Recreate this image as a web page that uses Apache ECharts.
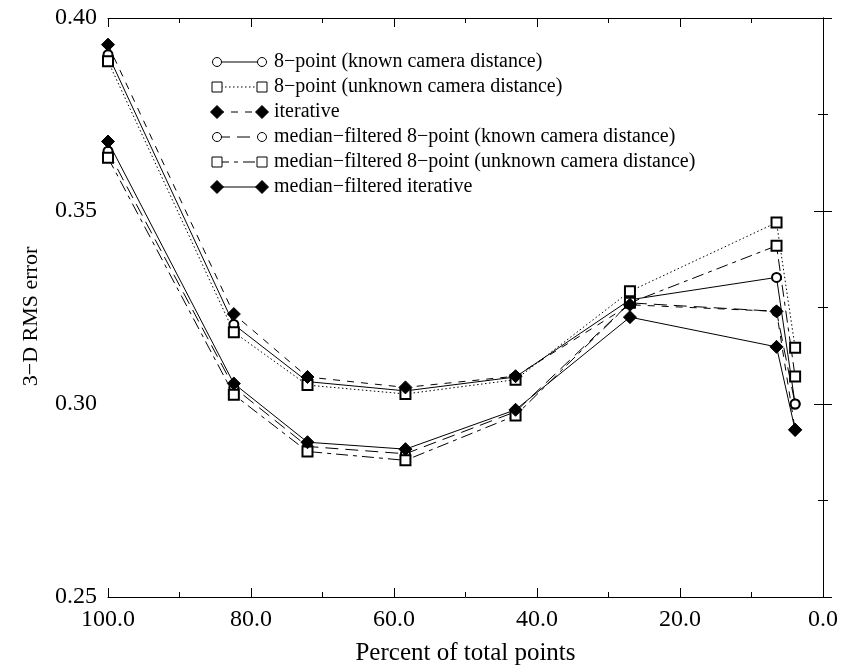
<!DOCTYPE html>
<html>
<head>
<meta charset="utf-8">
<script src="https://cdn.jsdelivr.net/npm/echarts@6/dist/echarts.min.js"></script>
<style>
html,body{margin:0;padding:0;background:#fff;}
#chart{width:844px;height:671px;}
</style>
</head>
<body>
<div id="chart"></div>
<script>
// ---- data ----
var percentPoints = [100, 82.4, 72.1, 58.4, 43.0, 27.0, 6.5, 3.9];
var eightKnown      = [0.3905, 0.3206, 0.3058, 0.3034, 0.3070, 0.3270, 0.3328, 0.3000];
var eightUnknown    = [0.3888, 0.3186, 0.3049, 0.3026, 0.3063, 0.3292, 0.3470, 0.3146];
var iterative       = [0.3931, 0.3233, 0.3070, 0.3043, 0.3072, 0.3257, 0.3240, 0.2933];
var medEightKnown   = [0.3655, 0.3043, 0.2890, 0.2871, 0.2980, 0.3262, 0.3240, 0.3000];
var medEightUnknown = [0.3638, 0.3024, 0.2877, 0.2854, 0.2970, 0.3262, 0.3410, 0.3071];
var medIterative    = [0.3680, 0.3053, 0.2901, 0.2883, 0.2985, 0.3225, 0.3148, 0.2933];
var seriesNames = [
  "8\u2212point (known camera distance)",
  "8\u2212point (unknown camera distance)",
  "iterative",
  "median\u2212filtered 8\u2212point (known camera distance)",
  "median\u2212filtered 8\u2212point (unknown camera distance)",
  "median\u2212filtered iterative"
];
var xTicks = [0, 20, 40, 60, 80, 100];
var yTicks = [0.25, 0.30, 0.35, 0.40];

// ---- styles ----
var seriesData = [eightKnown, eightUnknown, iterative, medEightKnown, medEightUnknown, medIterative];
var styles = [
  {sym:'emptyCircle', size:9, dash:'solid', kind:'circle', z:3},
  {sym:'emptyRect', size:10, dash:[1.5,2.5], kind:'rect', z:3},
  {sym:'diamond', size:13, dash:[7,7], kind:'diamond', z:5},
  {sym:'emptyCircle', size:9, dash:[13,7], kind:'circle', z:3},
  {sym:'emptyRect', size:10, dash:[12,5,4,5], kind:'rect', z:3},
  {sym:'diamond', size:13, dash:'solid', kind:'diamond', z:5}
];
var FONT = '"Liberation Serif","Times New Roman",serif';

var series = seriesData.map(function(vals, i){
  return {
    name: seriesNames[i],
    type: 'line',
    data: percentPoints.map(function(x, j){ return [x, vals[j]]; }),
    symbol: styles[i].sym,
    symbolSize: styles[i].size,
    showAllSymbol: true,
    lineStyle: {color:'#000', width:1, type: styles[i].dash},
    itemStyle: {color:'#000', borderColor:'#000', borderWidth:1},
    emphasis: {disabled:true},
    animation: false,
    z: styles[i].z
  };
});

// legend drawn as graphics
var graphics = [];
var lx1 = 217, lx2 = 262, ly0 = 62, ldy = 25;
styles.forEach(function(st, i){
  var y = ly0 + i*ldy;
  graphics.push({type:'line', shape:{x1:lx1, y1:y, x2:lx2, y2:y},
    style:{stroke:'#000', lineWidth:1, lineDash: st.dash === 'solid' ? null : st.dash}, z:10});
  [lx1, lx2].forEach(function(x){
    if (st.kind === 'circle') {
      graphics.push({type:'circle', shape:{cx:x, cy:y, r:4.5}, style:{fill:'#fff', stroke:'#000', lineWidth:1}, z:11});
    } else if (st.kind === 'rect') {
      graphics.push({type:'rect', shape:{x:x-5, y:y-5, width:10, height:10}, style:{fill:'#fff', stroke:'#000', lineWidth:1}, z:11});
    } else {
      graphics.push({type:'polygon', shape:{points:[[x, y-6.5],[x+6.5, y],[x, y+6.5],[x-6.5, y]]}, style:{fill:'#000', stroke:'#000'}, z:11});
    }
  });
  graphics.push({type:'text', x:274, y:y, style:{text: seriesNames[i], font:'20px ' + FONT, fill:'#000', textVerticalAlign:'middle', verticalAlign:'middle'}, z:11});
});

var axisCommon = {
  axisLine:{show:true, lineStyle:{color:'#000', width:1}},
  axisTick:{show:true, inside:true, length:9, lineStyle:{color:'#000', width:1}},
  minorTick:{show:true, splitNumber:2, length:5, lineStyle:{color:'#000', width:1}},
  splitLine:{show:false}
};

var chart = echarts.init(document.getElementById('chart'), null, {renderer:'canvas'});
chart.setOption({
  backgroundColor:'#fff',
  animation:false,
  grid:{left:108, right:21, top:18, bottom:70, containLabel:false},
  xAxis:[
    Object.assign({
      type:'value', min:xTicks[0], max:xTicks[xTicks.length-1], interval:20, inverse:true, position:'bottom',
      name:'Percent of total points', nameLocation:'middle', nameGap:44,
      nameTextStyle:{fontFamily:FONT, fontSize:25, color:'#000'},
      axisLabel:{fontFamily:FONT, fontSize:24, color:'#000', margin:11, formatter:function(v){return v.toFixed(1);}}
    }, axisCommon),
    Object.assign({
      type:'value', min:xTicks[0], max:xTicks[xTicks.length-1], interval:20, inverse:true, position:'top',
      axisLabel:{show:false}
    }, axisCommon)
  ],
  yAxis:[
    Object.assign({
      type:'value', min:yTicks[0], max:yTicks[yTicks.length-1], interval:0.05, position:'left',
      name:'3\u2212D RMS error', nameLocation:'middle', nameGap:66,
      nameTextStyle:{fontFamily:FONT, fontSize:22, color:'#000', padding:[0,18,0,0]},
      axisLabel:{fontFamily:FONT, fontSize:24, color:'#000', margin:11, formatter:function(v){return v.toFixed(2);}}
    }, axisCommon),
    Object.assign({
      type:'value', min:yTicks[0], max:yTicks[yTicks.length-1], interval:0.05, position:'right',
      axisLabel:{show:false}
    }, axisCommon)
  ],
  series: series,
  graphic: graphics
});
</script>
</body>
</html>
